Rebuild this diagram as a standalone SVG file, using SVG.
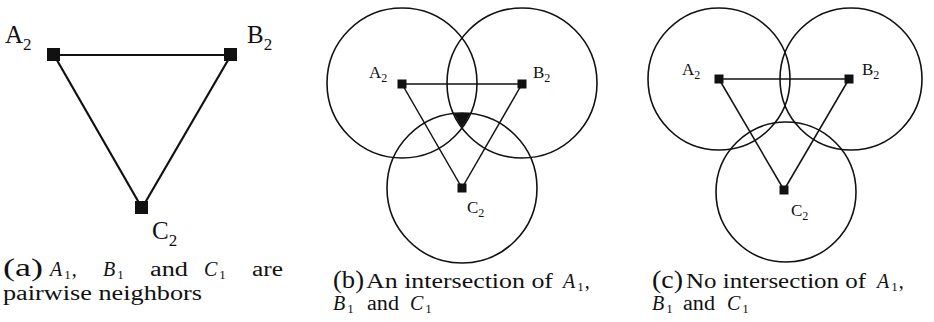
<svg xmlns="http://www.w3.org/2000/svg" width="934" height="322" viewBox="0 0 934 322">
<style>
.edge{stroke:#111;fill:none}
.ea{stroke-width:2.2}
.eb{stroke-width:1.5}
.circ{stroke:#111;stroke-width:1.6;fill:none}
.sq{fill:#111}
text{font-family:'Liberation Serif','Times New Roman',Times,serif;fill:#111}
.m{font-style:italic}
</style>
<rect fill="#fff" x="0" y="0" width="934" height="322"/>

<!-- Panel (a) -->
<g id="edges-a">
<line class="edge ea" x1="54" y1="55" x2="231" y2="55"/>
<line class="edge ea" x1="54" y1="55" x2="142" y2="208"/>
<line class="edge ea" x1="231" y1="55" x2="142" y2="208"/>
</g>
<g id="a-A2"><rect class="sq" x="47" y="48" width="13" height="13"/>
<text x="5" y="43" font-size="25">A<tspan font-size="17" dy="7">2</tspan></text></g>
<g id="a-B2"><rect class="sq" x="224" y="48" width="13" height="13"/>
<text x="247" y="43" font-size="25">B<tspan font-size="17" dy="7">2</tspan></text></g>
<g id="a-C2"><rect class="sq" x="135" y="201" width="13" height="13"/>
<text x="152" y="239" font-size="25">C<tspan font-size="17" dy="7">2</tspan></text></g>

<g id="caption-a">
<text x="3" y="276" font-size="25" textLength="40" lengthAdjust="spacingAndGlyphs">(a)</text>
<text x="50" y="276" font-size="20"><tspan class="m">A</tspan><tspan font-size="13" dx="2" dy="3">1</tspan><tspan dx="1" dy="-3">,</tspan></text>
<text x="103" y="276" font-size="20"><tspan class="m">B</tspan><tspan font-size="13" dx="2" dy="3">1</tspan></text>
<text x="150" y="276" font-size="20" textLength="38" lengthAdjust="spacingAndGlyphs">and</text>
<text x="204" y="276" font-size="20"><tspan class="m">C</tspan><tspan font-size="13" dx="2" dy="3">1</tspan></text>
<text x="252" y="276" font-size="20" textLength="31" lengthAdjust="spacingAndGlyphs">are</text>
<text x="3" y="300" font-size="20" textLength="199" lengthAdjust="spacingAndGlyphs">pairwise neighbors</text>
</g>

<!-- Panel (b) -->
<g id="circles-b">
<circle class="circ" cx="402" cy="83" r="75"/>
<circle class="circ" cx="522" cy="83" r="75"/>
<circle class="circ" cx="462" cy="188" r="75"/>
<path class="sq" d="M453.9 113.4 A75 75 0 0 1 470.1 113.4 A75 75 0 0 1 462 127.2 A75 75 0 0 1 453.9 113.4 Z"/>
</g>
<g id="edges-b">
<line class="edge eb" x1="402" y1="84" x2="522" y2="84"/>
<line class="edge eb" x1="402" y1="84" x2="462" y2="188"/>
<line class="edge eb" x1="522" y1="84" x2="462" y2="188"/>
</g>
<g id="b-A2"><rect class="sq" x="397.5" y="79.5" width="9" height="9"/>
<text x="369" y="78" font-size="17">A<tspan font-size="12" dy="4">2</tspan></text></g>
<g id="b-B2"><rect class="sq" x="517.5" y="79.5" width="9" height="9"/>
<text x="533" y="78" font-size="17">B<tspan font-size="12" dy="4">2</tspan></text></g>
<g id="b-C2"><rect class="sq" x="457.5" y="183.5" width="9" height="9"/>
<text x="467" y="213" font-size="17">C<tspan font-size="12" dy="4">2</tspan></text></g>

<g id="caption-b">
<text x="333" y="288" font-size="25" textLength="31" lengthAdjust="spacingAndGlyphs">(b)</text>
<text x="366" y="288" font-size="20" textLength="187" lengthAdjust="spacingAndGlyphs">An intersection of</text>
<text x="563" y="288" font-size="20"><tspan class="m">A</tspan><tspan font-size="13" dx="2" dy="3">1</tspan><tspan dx="1" dy="-3">,</tspan></text>
<text x="333" y="310" font-size="20"><tspan class="m">B</tspan><tspan font-size="13" dx="2" dy="3">1</tspan></text>
<text x="367" y="310" font-size="20" textLength="32" lengthAdjust="spacingAndGlyphs">and</text>
<text x="410" y="310" font-size="20"><tspan class="m">C</tspan><tspan font-size="13" dx="2" dy="3">1</tspan></text>
</g>

<!-- Panel (c) -->
<g id="circles-c">
<circle class="circ" cx="719" cy="79" r="71"/>
<circle class="circ" cx="851" cy="79" r="71"/>
<circle class="circ" cx="786" cy="192" r="70"/>
</g>
<g id="edges-c">
<line class="edge eb" x1="719" y1="79" x2="849" y2="79"/>
<line class="edge eb" x1="719" y1="79" x2="784" y2="190"/>
<line class="edge eb" x1="849" y1="79" x2="784" y2="190"/>
</g>
<g id="c-A2"><rect class="sq" x="714.5" y="74.5" width="9" height="9"/>
<text x="682" y="75" font-size="17">A<tspan font-size="12" dy="4">2</tspan></text></g>
<g id="c-B2"><rect class="sq" x="844.5" y="74.5" width="9" height="9"/>
<text x="862" y="75" font-size="17">B<tspan font-size="12" dy="4">2</tspan></text></g>
<g id="c-C2"><rect class="sq" x="779.5" y="185.5" width="9" height="9"/>
<text x="791" y="216" font-size="17">C<tspan font-size="12" dy="4">2</tspan></text></g>

<g id="caption-c">
<text x="652" y="288" font-size="25" textLength="31" lengthAdjust="spacingAndGlyphs">(c)</text>
<text x="686" y="288" font-size="20" textLength="180" lengthAdjust="spacingAndGlyphs">No intersection of</text>
<text x="877" y="288" font-size="20"><tspan class="m">A</tspan><tspan font-size="13" dx="2" dy="3">1</tspan><tspan dx="1" dy="-3">,</tspan></text>
<text x="652" y="310" font-size="20"><tspan class="m">B</tspan><tspan font-size="13" dx="2" dy="3">1</tspan></text>
<text x="683" y="310" font-size="20" textLength="32" lengthAdjust="spacingAndGlyphs">and</text>
<text x="727" y="310" font-size="20"><tspan class="m">C</tspan><tspan font-size="13" dx="2" dy="3">1</tspan></text>
</g>
</svg>
